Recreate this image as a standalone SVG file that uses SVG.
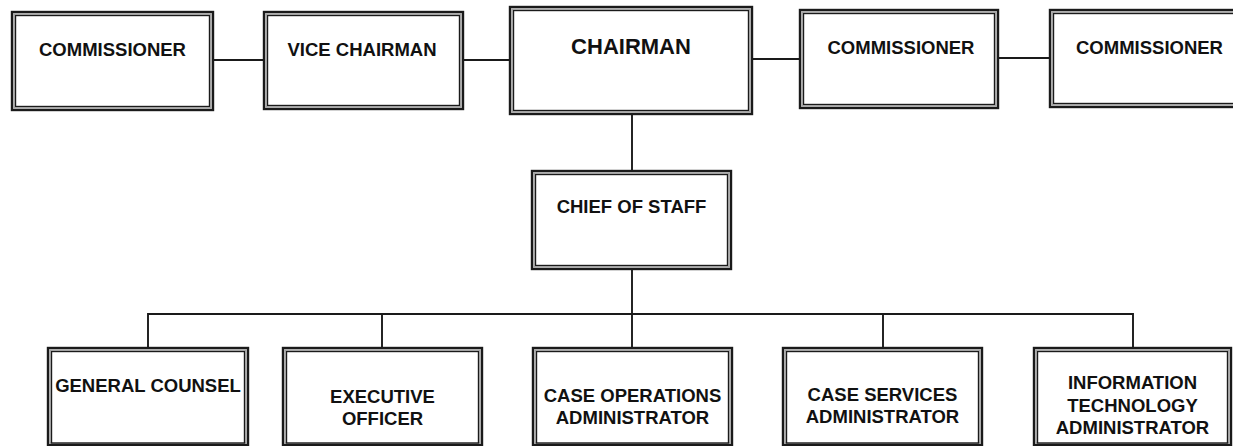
<svg xmlns="http://www.w3.org/2000/svg" width="1233" height="446" viewBox="0 0 1233 446">
  <style>
    .outer { fill: #ffffff; stroke: #1a1a1a; stroke-width: 2.4; }
    .gap { fill: none; stroke: #8a8a8a; stroke-width: 1; }
    .inner { fill: #ffffff; stroke: #1a1a1a; stroke-width: 1.4; }
    .lbl { font-family: "Liberation Sans", Arial, sans-serif; font-weight: bold; font-size: 18.5px; fill: #111111; text-anchor: middle; }
    .big { font-size: 22px; }
    .conn { fill: none; stroke: #1a1a1a; stroke-width: 1.9; }
  </style>
  <rect width="1233" height="446" fill="#ffffff"/>

  <!-- connectors -->
  <g id="connectors" class="conn">
    <line x1="214" y1="60" x2="263" y2="60"/>
    <line x1="464" y1="60" x2="509" y2="60"/>
    <line x1="753" y1="59" x2="799" y2="59"/>
    <line x1="999" y1="58" x2="1049" y2="58"/>
    <line x1="632" y1="115" x2="632" y2="170"/>
    <line x1="632" y1="270" x2="632" y2="314"/>
    <polyline points="148,347 148,314 1133,314 1133,347"/>
    <line x1="382" y1="314" x2="382" y2="347"/>
    <line x1="632" y1="314" x2="632" y2="347"/>
    <line x1="883" y1="314" x2="883" y2="347"/>
  </g>

  <!-- top row -->
  <g id="commissioner-1">
    <rect class="outer" x="12" y="12" width="201" height="98"/>
    <rect class="gap" x="14" y="14" width="197" height="94"/>
    <rect class="inner" x="15.5" y="15.5" width="194" height="91"/>
    <text class="lbl" x="112.5" y="56">COMMISSIONER</text>
  </g>
  <g id="vice-chairman">
    <rect class="outer" x="264" y="12" width="199" height="97"/>
    <rect class="gap" x="266" y="14" width="195" height="93"/>
    <rect class="inner" x="267.5" y="15.5" width="192" height="90"/>
    <text class="lbl" x="362" y="56">VICE CHAIRMAN</text>
  </g>
  <g id="chairman">
    <rect class="outer" x="510" y="7" width="242" height="107"/>
    <rect class="gap" x="512" y="9" width="238" height="103"/>
    <rect class="inner" x="513.5" y="10.5" width="235" height="100"/>
    <text class="lbl big" x="631" y="54">CHAIRMAN</text>
  </g>
  <g id="commissioner-2">
    <rect class="outer" x="800" y="10" width="198" height="98"/>
    <rect class="gap" x="802" y="12" width="194" height="94"/>
    <rect class="inner" x="803.5" y="13.5" width="191" height="91"/>
    <text class="lbl" x="901" y="54">COMMISSIONER</text>
  </g>
  <g id="commissioner-3">
    <rect class="outer" x="1050" y="10" width="200" height="97"/>
    <rect class="gap" x="1052" y="12" width="196" height="93"/>
    <rect class="inner" x="1053.5" y="13.5" width="193" height="90"/>
    <text class="lbl" x="1149.5" y="54">COMMISSIONER</text>
  </g>

  <!-- middle -->
  <g id="chief-of-staff">
    <rect class="outer" x="532" y="171" width="199" height="98"/>
    <rect class="gap" x="534" y="173" width="195" height="94"/>
    <rect class="inner" x="535.5" y="174.5" width="192" height="91"/>
    <text class="lbl" x="631.5" y="213">CHIEF OF STAFF</text>
  </g>

  <!-- bottom row -->
  <g id="general-counsel">
    <rect class="outer" x="48" y="348" width="200" height="97"/>
    <rect class="gap" x="50" y="350" width="196" height="93"/>
    <rect class="inner" x="51.5" y="351.5" width="193" height="91.5"/>
    <text class="lbl" x="148" y="392">GENERAL COUNSEL</text>
  </g>
  <g id="executive-officer">
    <rect class="outer" x="283" y="348" width="199" height="97"/>
    <rect class="gap" x="285" y="350" width="195" height="93"/>
    <rect class="inner" x="286.5" y="351.5" width="192" height="91.5"/>
    <text class="lbl" x="382.5" y="403">EXECUTIVE</text>
    <text class="lbl" x="382.5" y="425">OFFICER</text>
  </g>
  <g id="case-operations">
    <rect class="outer" x="533" y="348" width="199" height="97"/>
    <rect class="gap" x="535" y="350" width="195" height="93"/>
    <rect class="inner" x="536.5" y="351.5" width="192" height="91.5"/>
    <text class="lbl" x="632.5" y="402">CASE OPERATIONS</text>
    <text class="lbl" x="632.5" y="424">ADMINISTRATOR</text>
  </g>
  <g id="case-services">
    <rect class="outer" x="783" y="348" width="199" height="97"/>
    <rect class="gap" x="785" y="350" width="195" height="93"/>
    <rect class="inner" x="786.5" y="351.5" width="192" height="91.5"/>
    <text class="lbl" x="882.5" y="401">CASE SERVICES</text>
    <text class="lbl" x="882.5" y="423">ADMINISTRATOR</text>
  </g>
  <g id="information-technology">
    <rect class="outer" x="1034" y="348" width="197" height="97"/>
    <rect class="gap" x="1036" y="350" width="193" height="93"/>
    <rect class="inner" x="1037.5" y="351.5" width="190" height="91.5"/>
    <text class="lbl" x="1132.5" y="389">INFORMATION</text>
    <text class="lbl" x="1132.5" y="412">TECHNOLOGY</text>
    <text class="lbl" x="1132.5" y="434">ADMINISTRATOR</text>
  </g>
</svg>
